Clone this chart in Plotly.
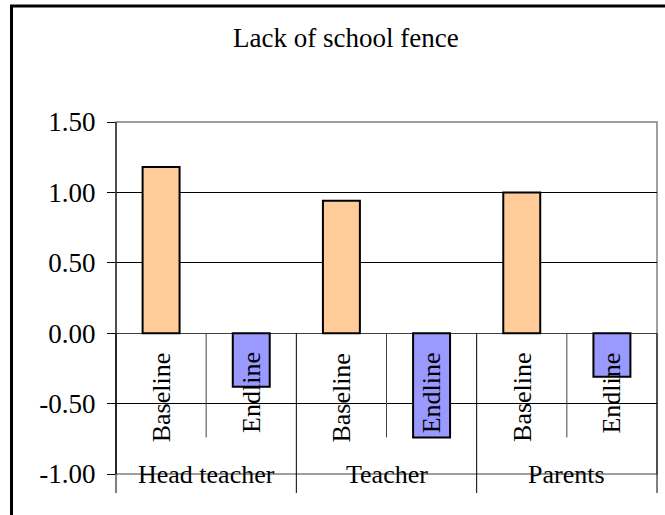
import plotly.graph_objects as go

groups = ["Head teacher", "Teacher", "Parents"]
periods = ["Baseline", "Endline"]
baseline = [1.18, 0.94, 1.00]
endline = [-0.38, -0.74, -0.31]
tick_vals = [-1.0, -0.5, 0.0, 0.5, 1.0, 1.5]

W, H = 665, 515
L, R, T, B = 116, 8, 122, 41
X_RANGE = [-0.5, 2 * len(groups) - 0.5]
Y_RANGE = [tick_vals[0], tick_vals[-1]]
FONT = "Liberation Serif, Times New Roman, serif"

plot_w = W - L - R
plot_h = H - T - B

def px(v):
    # data x -> paper x
    return (v - X_RANGE[0]) / (X_RANGE[1] - X_RANGE[0])

def py(v):
    # data y -> paper y
    return (v - Y_RANGE[0]) / (Y_RANGE[1] - Y_RANGE[0])

def pix_x(p):
    return (p - L) / plot_w

def pix_y(p):
    return (H - B - p) / plot_h

base_x = [2 * i for i in range(len(groups))]
end_x = [2 * i + 1 for i in range(len(groups))]

fig = go.Figure()
fig.add_trace(go.Bar(x=base_x, y=baseline, name=periods[0], width=0.41,
                     marker=dict(color="#FFCC99", line=dict(color="black", width=2))))
fig.add_trace(go.Bar(x=end_x, y=endline, name=periods[1], width=0.41,
                     marker=dict(color="#9999FF", line=dict(color="black", width=2))))

shapes = []
# plot area border
shapes.append(dict(type="rect", xref="paper", yref="paper", x0=0, x1=1, y0=0, y1=1,
                   line=dict(color="#808080", width=1.5), layer="below"))
# dividers between baseline/endline
for i in range(len(groups)):
    shapes.append(dict(type="line", xref="paper", yref="paper",
                       x0=px(2 * i + 0.5), x1=px(2 * i + 0.5), y0=py(0), y1=py(-0.74),
                       line=dict(color="#404040", width=1)))
# group dividers
for i in range(len(groups) + 1):
    shapes.append(dict(type="line", xref="paper", yref="paper",
                       x0=px(2 * i - 0.5), x1=px(2 * i - 0.5), y0=py(0), y1=pix_y(H - B + 19),
                       line=dict(color="black", width=1)))
# left axis line
shapes.append(dict(type="line", xref="paper", yref="paper", x0=0, x1=0, y0=0, y1=1,
                   line=dict(color="black", width=1)))
# outer chart border (left and top)
shapes.append(dict(type="line", xref="paper", yref="paper",
                   x0=pix_x(11.5), x1=pix_x(11.5), y0=pix_y(H + 10), y1=pix_y(6),
                   line=dict(color="black", width=3)))
shapes.append(dict(type="line", xref="paper", yref="paper",
                   x0=pix_x(10), x1=pix_x(W + 10), y0=pix_y(6), y1=pix_y(6),
                   line=dict(color="black", width=3)))

annotations = []
annotations.append(dict(text="Lack of school fence", xref="paper", yref="paper",
                        x=pix_x(346), y=pix_y(38), showarrow=False,
                        xanchor="center", yanchor="middle",
                        font=dict(family=FONT, size=27, color="black")))
for i, g in enumerate(groups):
    for j, p in enumerate(periods):
        annotations.append(dict(text=p, xref="x", yref="y", x=2 * i + j, y=0,
                                yshift=-17, textangle=-90, showarrow=False,
                                xanchor="center", yanchor="top",
                                font=dict(family=FONT, size=26, color="black")))
    annotations.append(dict(text=g, xref="x", yref="y", x=2 * i + 0.5, y=Y_RANGE[0],
                            showarrow=False, xanchor="center", yanchor="middle",
                            font=dict(family=FONT, size=26, color="black")))

fig.update_layout(
    width=W, height=H,
    margin=dict(l=L, r=R, t=T, b=B),
    paper_bgcolor="white", plot_bgcolor="white",
    barmode="overlay", showlegend=False,
    shapes=shapes, annotations=annotations,
    font=dict(family=FONT, size=26, color="black"),
)
fig.update_xaxes(range=X_RANGE, showticklabels=False, showgrid=False,
                 zeroline=False, showline=False, ticks="")
fig.update_yaxes(range=Y_RANGE, tickvals=tick_vals,
                 ticktext=[f"{v:.2f}" for v in tick_vals],
                 showgrid=True, gridcolor="black", gridwidth=1,
                 zeroline=True, zerolinecolor="#404040", zerolinewidth=1,
                 ticks="outside", ticklen=8, tickcolor="black",
                 ticklabelstandoff=6,
                 tickfont=dict(family=FONT, size=27, color="black"))

# drop the default page margin so the figure sits at the window's corner
fig.write_html("out.html", config={"displayModeBar": False},
               post_script="document.body.style.margin='0';document.body.style.overflow='hidden';")
